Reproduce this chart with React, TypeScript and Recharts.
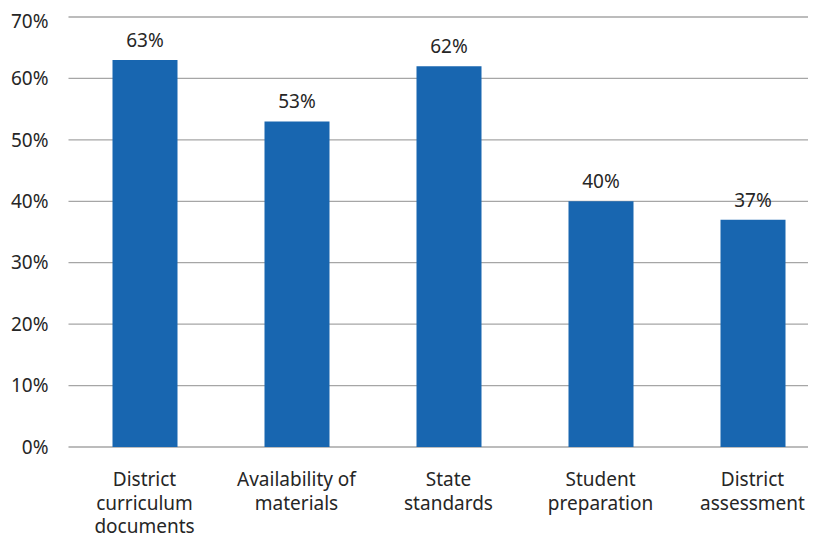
import React from "react";
import { BarChart, Bar, XAxis, YAxis, CartesianGrid, LabelList } from "recharts";

const categories = [
  "District curriculum documents",
  "Availability of materials",
  "State standards",
  "Student preparation",
  "District assessment",
];
const categoryLines = [
  ["District", "curriculum", "documents"],
  ["Availability of", "materials"],
  ["State", "standards"],
  ["Student", "preparation"],
  ["District", "assessment"],
];
const values = [63, 53, 62, 40, 37];
const yTicks = [0, 10, 20, 30, 40, 50, 60, 70];

const data = categories.map((c, i) => ({ name: c, idx: i, value: values[i] }));

const FONT = "'Noto Sans', 'Open Sans', sans-serif";
const TEXT = "#262626";

const CatTick = (props: any) => {
  const { x, y, payload } = props;
  const i = categories.indexOf(payload.value);
  const lines = categoryLines[i] || [payload.value];
  return (
    <text x={x} y={y} textAnchor="middle" fill={TEXT} fontSize={19} fontFamily={FONT}>
      {lines.map((l, k) => (
        <tspan key={k} x={x} dy={k === 0 ? 37 : 23.5}>
          {l}
        </tspan>
      ))}
    </text>
  );
};

export default function App() {
  return (
    <div style={{ width: 808, height: 531, overflow: "hidden" }}>
      <BarChart
        width={830}
        height={531}
        data={data}
        margin={{ top: 9, right: 9.5, bottom: 0, left: 0 }}
      >
        <CartesianGrid vertical={false} stroke="#a6a6a6" strokeWidth={1.3} />
        <XAxis
          dataKey="name"
          tick={<CatTick />}
          tickLine={false}
          axisLine={false}
          tickSize={0}
          interval={0}
          height={92}
        />
        <YAxis
          domain={[0, 70]}
          ticks={yTicks}
          width={60.5}
          tickFormatter={(v: number) => `${v}%`}
          tick={{ fill: TEXT, fontSize: 19, fontFamily: FONT }}
          tickLine={false}
          axisLine={false}
          tickSize={0}
          tickMargin={20}
        />
        <Bar dataKey="value" fill="#1866b0" barSize={65} isAnimationActive={false}>
          <LabelList
            dataKey="value"
            position="top"
            offset={13}
            formatter={(v: number) => `${v}%`}
            style={{ fill: TEXT, fontSize: 19, fontFamily: FONT }}
          />
        </Bar>
      </BarChart>
    </div>
  );
}
